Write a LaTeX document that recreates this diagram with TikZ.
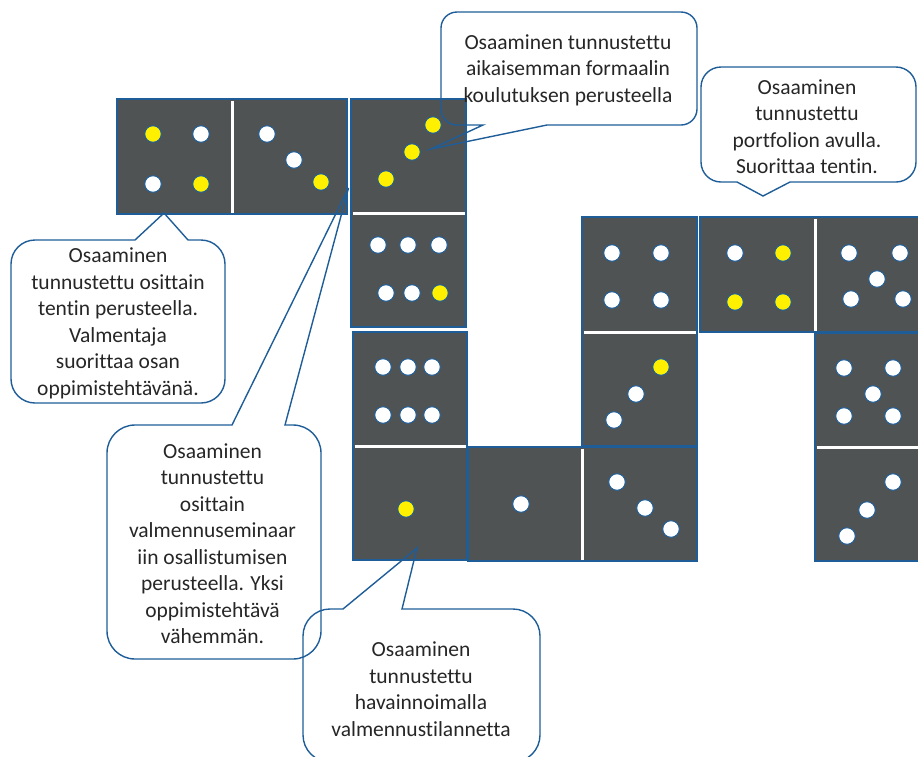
\documentclass[tikz,border=0pt]{standalone}
\usepackage{fontspec}
\setmainfont{Carlito}[Ligatures={NoCommon,NoContextual}]
\definecolor{tilegray}{RGB}{80,83,84}
\definecolor{edgeblue}{RGB}{30,93,152}
\definecolor{pipyellow}{RGB}{255,240,0}
\definecolor{txt}{RGB}{38,38,38}
\tikzset{
  tile/.style={fill=tilegray, draw=edgeblue, line width=1.3pt},
  split/.style={draw=white, line width=3pt},
  pipw/.style={fill=white, draw=edgeblue, line width=1pt},
  pipy/.style={fill=pipyellow, draw=edgeblue, line width=1pt},
  bubble/.style={draw=edgeblue, line width=1.4pt, line join=miter},
  bubbletext/.style={align=center, text=txt, inner sep=0pt,
    font=\fontsize{21.5}{26.5}\selectfont}
}
% rounded callout, pointer on the bottom edge: L T R B r p1 p2 tip
\newcommand\bubbledown[8]{%
  \draw[bubble] (#1+#5,#2) -- (#3-#5,#2)
    .. controls (#3-0.448*#5,#2) and (#3,#2+0.448*#5) .. (#3,#2+#5)
    -- (#3,#4-#5)
    .. controls (#3,#4-0.448*#5) and (#3-0.448*#5,#4) .. (#3-#5,#4)
    -- (#7,#4) -- (#8) -- (#6,#4) -- (#1+#5,#4)
    .. controls (#1+0.448*#5,#4) and (#1,#4-0.448*#5) .. (#1,#4-#5)
    -- (#1,#2+#5)
    .. controls (#1,#2+0.448*#5) and (#1+0.448*#5,#2) .. (#1+#5,#2) -- cycle;}
% rounded callout, pointer on the top edge: L T R B r p1 p2 tip
\newcommand\bubbleup[8]{%
  \draw[bubble] (#1+#5,#2) -- (#6,#2) -- (#8) -- (#7,#2) -- (#3-#5,#2)
    .. controls (#3-0.448*#5,#2) and (#3,#2+0.448*#5) .. (#3,#2+#5)
    -- (#3,#4-#5)
    .. controls (#3,#4-0.448*#5) and (#3-0.448*#5,#4) .. (#3-#5,#4)
    -- (#1+#5,#4)
    .. controls (#1+0.448*#5,#4) and (#1,#4-0.448*#5) .. (#1,#4-#5)
    -- (#1,#2+#5)
    .. controls (#1,#2+0.448*#5) and (#1+0.448*#5,#2) .. (#1+#5,#2) -- cycle;}
\newcommand\pw[2]{\draw[pipw] (#1,#2) circle[radius=8.3pt];}
\newcommand\py[2]{\draw[pipy] (#1,#2) circle[radius=8.3pt];}
\begin{document}
\begin{tikzpicture}[x=1pt, y=-1pt]
\useasboundingbox (0,0) rectangle (918,756);
\clip (0,0) rectangle (918,756);

% domino A (horizontal, 4 | 3)
\draw[tile] (117,99) rectangle (347,214);
\draw[split] (232,100.5) -- (232,212.5);
\py{153}{134} \pw{201}{134} \pw{153}{184} \py{201}{184}
\pw{267}{134} \pw{294}{160} \py{321}{182}

% domino B (vertical, 3 / 6)
\draw[tile] (351,99) rectangle (466,327);
\draw[split] (352.5,213) -- (464.5,213);
\py{386}{179} \py{412}{152} \py{433}{125}
\pw{378}{245} \pw{408}{245} \pw{439}{245}
\pw{386}{293} \pw{412}{293} \py{440}{293}

% domino C (vertical, 6 / 1)
\draw[tile] (353,332) rectangle (467,560);
\draw[split] (354.5,446) -- (465.5,446);
\pw{383}{367} \pw{408}{367} \pw{432}{367}
\pw{383}{415} \pw{408}{415} \pw{432}{415}
\py{406}{509}

% domino D (horizontal, 1 | 3)
\draw[tile] (468,447) rectangle (697,561);
\draw[split] (582,448.5) -- (582,559.5);
\pw{521}{504}
\pw{617}{482} \pw{645}{508} \pw{671}{529}

% domino E (vertical, 4 / 3)
\draw[tile] (582,217) rectangle (697,446);
\draw[split] (583.5,332) -- (695.5,332);
\pw{612}{253} \pw{661}{253} \pw{612}{300} \pw{661}{300}
\py{661}{367} \pw{636}{394} \pw{614}{420}

% domino F (horizontal, 4 | 5)
\draw[tile] (700,217) rectangle (932,332);
\draw[split] (815,218.5) -- (815,330.5);
\pw{735}{253} \py{783}{253} \py{735}{302} \py{783}{302}
\pw{849}{253} \pw{900}{253} \pw{877}{279} \pw{851}{299} \pw{903}{299}

% domino G (vertical, 5 / 3)
\draw[tile] (815,333) rectangle (932,561);
\draw[split] (816.5,447) -- (930,447);
\pw{844}{368} \pw{893}{368} \pw{873}{394} \pw{844}{416} \pw{893}{416}
\pw{893}{482} \pw{867}{510} \pw{847}{536}

% pointer tips
\coordinate (tipA) at (431,149);
\coordinate (tipB) at (763,196);
\coordinate (tipC) at (164,213);
\coordinate (tipD) at (348.5,188);
\coordinate (tipE) at (417,548);

% callouts
\bubbledown{441}{12}{697}{125}{16}{483}{547}{tipA}
\bubbledown{701}{67}{916}{182}{20}{737}{790}{tipB}
\bubbleup{11}{240}{225}{403}{24}{135}{188}{tipC}
\bubbleup{107}{425}{321}{659}{28}{232}{285}{tipD}
\bubbleup{303}{609}{540}{762}{27}{343}{402}{tipE}

\node[bubbletext] (t1) at (568,70) {Osaaminen tunnustettu\\aikaisemman formaalin\\koulutuksen perusteella};
\node[bubbletext] (t2) at (807,126.5) {Osaaminen\\tunnustettu\\portfolion avulla.\\Suorittaa tentin.};
\node[bubbletext] (t3) at (118,323.5) {Osaaminen\\tunnustettu osittain\\tentin perusteella.\\Valmentaja\\suorittaa osan\\oppimistehtävänä.};
\node[bubbletext] (t4) at (212.5,543.5) {Osaaminen\\tunnustettu\\osittain\\valmennuseminaar\\iin osallistumisen\\perusteella. Yksi\\oppimistehtävä\\vähemmän.};
\node[bubbletext] (t5) at (421,689) {Osaaminen\\tunnustettu\\havainnoimalla\\valmennustilannetta};
\end{tikzpicture}
\end{document}
